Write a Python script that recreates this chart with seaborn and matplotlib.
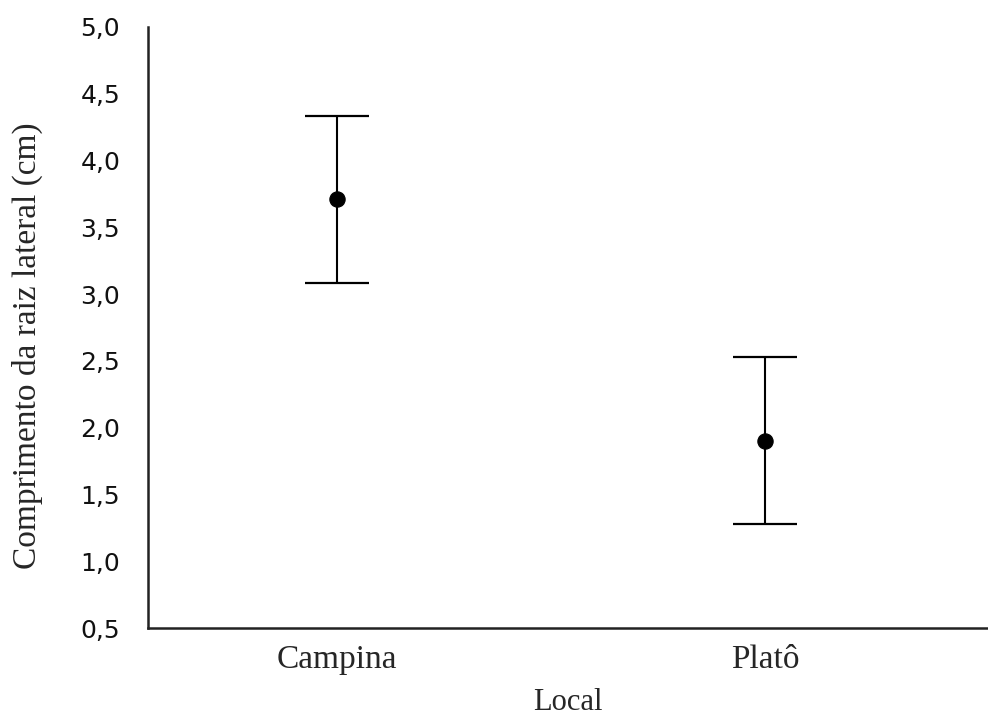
import numpy as np
import matplotlib
matplotlib.use("Agg")
import matplotlib.pyplot as plt
import seaborn as sns

# dados
local = ["Campina", "Platô"]
media = [3.71, 1.90]
limite_inf = [3.08, 1.28]
limite_sup = [4.33, 2.53]
y_ticks = [0.5, 1.0, 1.5, 2.0, 2.5, 3.0, 3.5, 4.0, 4.5, 5.0]

sns.set_style("white")
plt.rcParams["font.family"] = ["Liberation Serif", "DejaVu Serif"]

fig = plt.figure(figsize=(9.88, 7.18), dpi=100)
ax = fig.add_axes([0.1498, 0.1253, 0.8502, 0.8371])

err_baixo = np.array(media) - np.array(limite_inf)
err_cima = np.array(limite_sup) - np.array(media)
ax.errorbar(x=np.arange(len(local)), y=media, yerr=[err_baixo, err_cima],
            fmt="none", ecolor="black", elinewidth=1.5, capsize=23, capthick=1.6, zorder=2)
sns.scatterplot(x=local, y=media, color="black", s=120, edgecolor="black", zorder=3, ax=ax)

ax.set_xlim(-0.44, 1.52)
ax.set_ylim(0.5, 5.0)
ax.set_yticks(y_ticks)
ax.set_yticklabels([f"{v:.1f}".replace(".", ",") for v in y_ticks],
                   fontfamily="DejaVu Sans", fontsize=18, color="#111111")
ax.set_xticks(range(len(local)))
ax.set_xticklabels(local, fontsize=24)

ax.tick_params(axis="y", length=0, pad=20)
ax.tick_params(axis="x", direction="in", length=4, width=1.5, color="black", pad=12)

sns.despine(ax=ax)
for s in ["left", "bottom"]:
    ax.spines[s].set_color("#222222")
    ax.spines[s].set_linewidth(1.8)

ax.set_xlabel("Local", fontsize=22, labelpad=9)
ax.set_ylabel("Comprimento da raiz lateral (cm)", fontsize=24)
ax.yaxis.set_label_coords(-0.125, 0.47)

fig.savefig("out.png", dpi=100)
